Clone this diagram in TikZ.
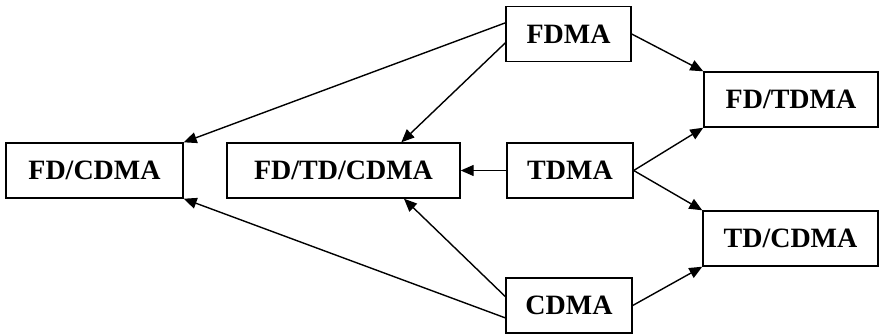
\documentclass[tikz,border=0pt]{standalone}
\usepackage		 {fontspec}
\setmainfont		 {Liberation Serif}
\usepackage		 {tikz	  }
\usetikzlibrary	 {arrows.meta}

\begin{document}
\begin{tikzpicture}
  [->,>={Triangle[length=13pt,width=11pt]},x=1pt,y=-1pt,line width=1.4pt,
   every node/.style={draw,rectangle,inner sep=0pt,minimum height=55pt,
     font=\bfseries\fontsize{28}{32}\selectfont}]
  \useasboundingbox (0,0) rectangle (879,335);
  \node[minimum width=125pt] (FDMA) at (568.5,34) {FDMA};
  \node[minimum width=126pt] (TDMA) at (570,170.5) {TDMA};
  \node[minimum width=126pt] (CDMA) at (569,305.5) {CDMA};
  \node[minimum width=174pt] (FDTDMA) at (791,99.5) {FD/TDMA};
  \node[minimum width=175pt] (TDCDMA) at (790.5,238.5) {TD/CDMA};
  \node[minimum width=177pt] (FDCDMA) at (94.5,170.5) {FD/CDMA};
  \node[minimum width=233pt] (FDTDCDMA) at (343.5,170.5) {FD/TD/CDMA};


    \draw (FDMA.east) -> (FDTDMA.north west);
    \draw (TDMA.east) -> (FDTDMA.south west);
    \draw (TDMA.east) -> (TDCDMA.north west);
    \draw (CDMA.east) -> (TDCDMA.south west);

     \draw (FDMA.170) -> (FDCDMA.north east);
     \draw (FDMA.188) -> (FDTDCDMA.26);
     \draw (TDMA.west) -> (FDTDCDMA.east);
     \draw (CDMA.172) -> (FDTDCDMA.-25);
     \draw (CDMA.191) -> (FDCDMA.south east);

\end{tikzpicture}
\end{document}
